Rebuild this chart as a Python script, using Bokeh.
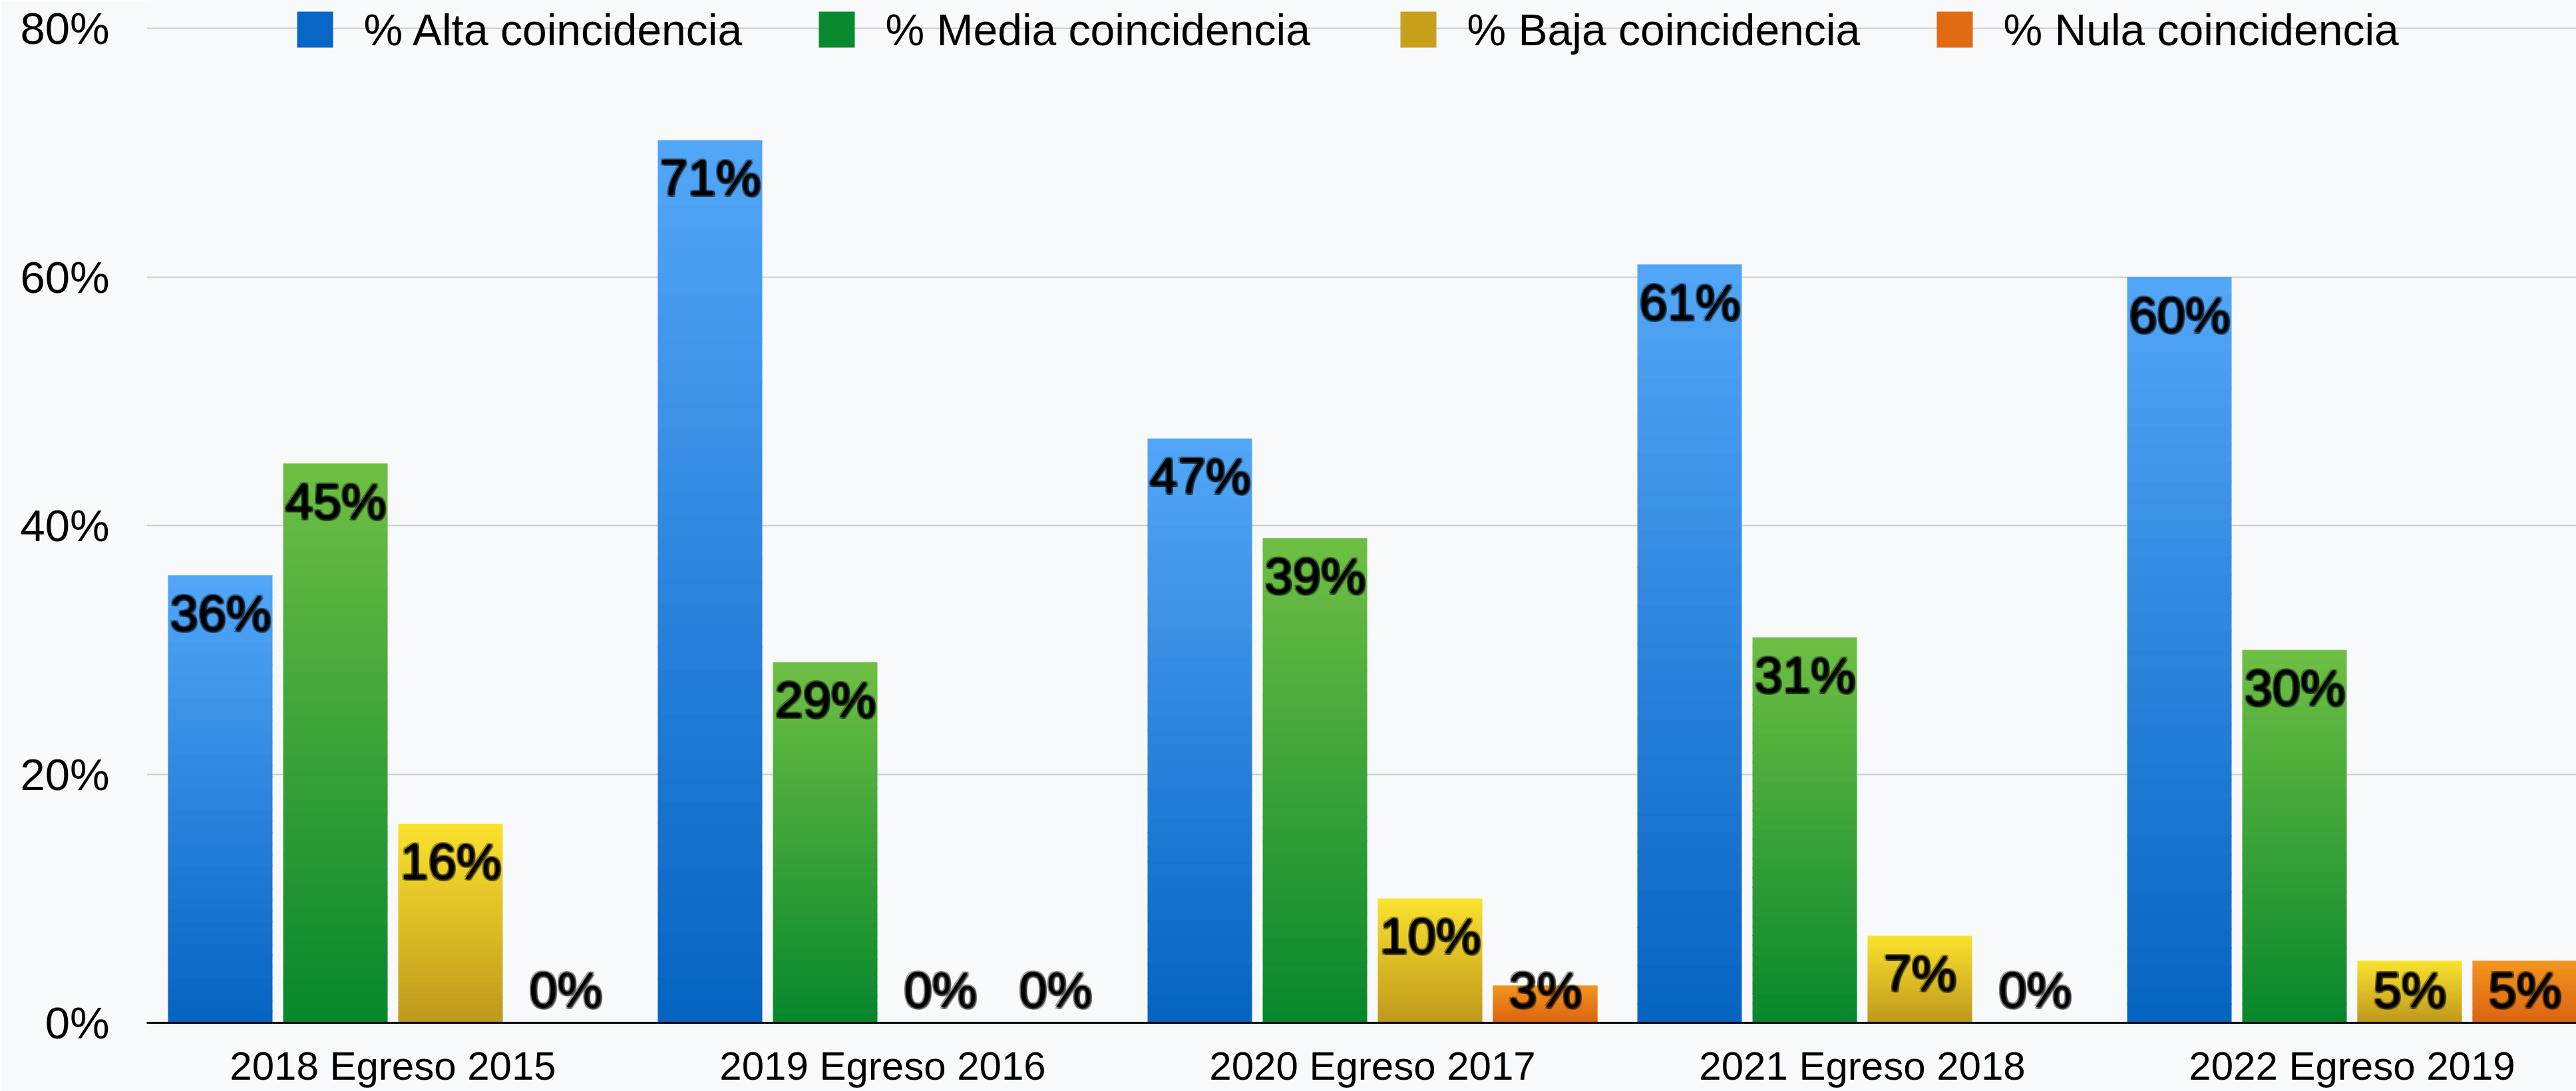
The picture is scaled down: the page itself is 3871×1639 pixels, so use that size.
import numpy as np
from bokeh.plotting import figure
from bokeh.models import ColumnDataSource, Range1d, FixedTicker
from bokeh.embed import file_html
from bokeh.resources import INLINE
from bokeh.core.properties import value

# ---------------- data ----------------
groups = ["2018 Egreso 2015", "2019 Egreso 2016", "2020 Egreso 2017",
          "2021 Egreso 2018", "2022 Egreso 2019"]
series_names = ["% Alta coincidencia", "% Media  coincidencia",
                "% Baja coincidencia", "% Nula coincidencia"]
alta = [36, 71, 47, 61, 60]
media = [45, 29, 39, 31, 30]
baja = [16, 0, 10, 7, 5]
nula = [0, 0, 3, 0, 5]
y_ticks = [0, 20, 40, 60, 80]
y_tick_labels = ["0%", "20%", "40%", "60%", "80%"]

series_values = [alta, media, baja, nula]

# ---------------- style ----------------
FONT = "Liberation Sans"
BG = "#f8f9fa"
# (bottom colour, top colour) of each series' vertical gradient
grad = [("#0563c1", "#53a7f8"),
        ("#07872c", "#6fbf44"),
        ("#bf981b", "#fae22e"),
        ("#dc6410", "#f2951f")]
legend_colors = ["#0766c6", "#0a8a2e", "#c9a01c", "#e06b12"]

# layout (canvas pixels)
PX_X = 736.0          # pixels per group
X0 = 590.0            # x of first group's centre
Y0 = 1536.0           # y of 0 %
PX_Y = (1536.0 - 42.0) / 80.0   # pixels per percent
FRAME_LEFT, FRAME_RIGHT, FRAME_TOP = 220.0, 3871.0, 0.0

def px_x(px):
    return (px - X0) / PX_X

def px_y(py):
    return (Y0 - py) / PX_Y

offsets = [-0.3526, -0.1175, 0.1175, 0.3526]
bar_w = 0.2133

W, H = 3871, 1639
p = figure(width=W, height=H, output_backend="svg", toolbar_location=None,
           x_range=Range1d(px_x(FRAME_LEFT), px_x(FRAME_RIGHT)),
           y_range=Range1d(0, px_y(FRAME_TOP)),
           min_border_left=220, min_border_right=0, min_border_top=0,
           min_border_bottom=103)
p.background_fill_color = BG
p.border_fill_color = BG
p.outline_line_color = None

# ---------------- bars with vertical gradient ----------------
N = 40
def lerp_hex(c0, c1, t):
    a = np.array([int(c0[i:i + 2], 16) for i in (1, 3, 5)], float)
    b = np.array([int(c1[i:i + 2], 16) for i in (1, 3, 5)], float)
    c = a + (b - a) * t
    return "#%02x%02x%02x" % tuple(int(round(v)) for v in c)

for j, vals in enumerate(series_values):
    xs, bots, tops, cols = [], [], [], []
    for i, v in enumerate(vals):
        if v <= 0:
            continue
        for k in range(N):
            b = v * k / N
            t = min(v, v * (k + 1) / N + 0.06)
            xs.append(i + offsets[j])
            bots.append(b)
            tops.append(t)
            cols.append(lerp_hex(grad[j][0], grad[j][1], (k + 0.5) / N))
    src = ColumnDataSource(dict(x=xs, bottom=bots, top=tops, color=cols))
    p.vbar(x="x", bottom="bottom", top="top", width=bar_w, source=src,
           fill_color="color", line_color=None)

# ---------------- value labels ----------------
LBL_SIZE = "76px"
lx, ly, lt = [], [], []
for j, vals in enumerate(series_values):
    for i, v in enumerate(vals):
        lx.append(i + offsets[j])
        ly.append(max(v - 56.0 / PX_Y, 50.0 / PX_Y))
        lt.append(f"{v}%")
lsrc = ColumnDataSource(dict(x=lx, y=ly, text=lt))
for dx, dy, a in [(-2, -2, 0.35), (2, -2, 0.35), (-2, 2, 0.35), (2, 2, 0.35),
                  (0, 3, 0.3), (3, 3, 0.3), (3, 0, 0.3)]:
    p.text(x="x", y="y", text="text", source=lsrc, x_offset=dx, y_offset=dy,
           text_font=value(FONT), text_font_size=LBL_SIZE,
           text_align="center", text_baseline="middle",
           text_color="black", text_alpha=a)
p.text(x="x", y="y", text="text", source=lsrc,
       text_font=value(FONT), text_font_size=LBL_SIZE,
       text_align="center", text_baseline="middle", text_color="black")

# ---------------- legend (top strip) ----------------
sq_left = [446, 1230, 2104, 2910]
sq = 54
leg_mid = 44
for k in range(4):
    p.quad(left=[px_x(sq_left[k])], right=[px_x(sq_left[k] + sq)],
           bottom=[px_y(leg_mid + sq / 2.0)], top=[px_y(leg_mid - sq / 2.0)],
           fill_color=legend_colors[k], line_color=None)
    p.text(x=[px_x(sq_left[k] + sq + 46)], y=[px_y(leg_mid)],
           text=[series_names[k]], text_font=value(FONT),
           text_font_size="66px", text_align="left",
           text_baseline="middle", text_color="black")

# ---------------- axes & grid ----------------
p.xaxis.ticker = FixedTicker(ticks=list(range(len(groups))))
p.xaxis.major_label_overrides = {i: g for i, g in enumerate(groups)}
p.xaxis.axis_line_color = "black"
p.xaxis.axis_line_width = 3
p.xaxis.major_tick_line_color = None
p.xaxis.minor_tick_line_color = None
p.xaxis.major_label_text_font = FONT
p.xaxis.major_label_text_font_size = "60px"
p.xaxis.major_label_text_color = "black"
p.xaxis.major_label_standoff = 25

p.yaxis.ticker = FixedTicker(ticks=y_ticks)
p.yaxis.major_label_overrides = {t: l for t, l in zip(y_ticks, y_tick_labels)}
p.yaxis.axis_line_color = None
p.yaxis.major_tick_line_color = None
p.yaxis.minor_tick_line_color = None
p.yaxis.major_label_text_font = FONT
p.yaxis.major_label_text_font_size = "67px"
p.yaxis.major_label_text_color = "black"
p.yaxis.major_label_standoff = 50

p.xgrid.grid_line_color = None
p.ygrid.grid_line_color = "#cdcdcd"
p.ygrid.grid_line_width = 2

open("out.html", "w").write(file_html(p, INLINE))
